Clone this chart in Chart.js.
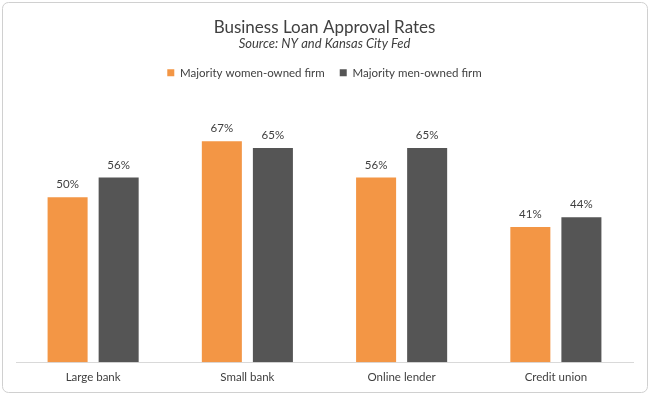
<!DOCTYPE html>
<html>
<head>
<meta charset="utf-8">
<script src="https://cdn.jsdelivr.net/npm/chart.js@4.4.1/dist/chart.umd.min.js"></script>
<style>
  html, body { margin: 0; padding: 0; background: #fff; }
  #wrap { width: 650px; height: 396px; position: relative; }
</style>
</head>
<body>
<div id="wrap"><canvas id="grafico" width="650" height="396"></canvas></div>
<script>
const categorias = ["Large bank", "Small bank", "Online lender", "Credit union"];
const mulheres = [50, 67, 56, 41];
const homens = [56, 65, 65, 44];

const fonte = "Lato, 'Open Sans', sans-serif";
const corTexto = "#404040";

// moldura arredondada em volta do grafico
const moldura = {
  id: "moldura",
  beforeDraw(chart) {
    const ctx = chart.ctx;
    ctx.save();
    ctx.fillStyle = "#fff";
    ctx.fillRect(0, 0, chart.width, chart.height);
    ctx.strokeStyle = "#d0d0d0";
    ctx.lineWidth = 1;
    ctx.beginPath();
    ctx.roundRect(2.5, 2.5, 645, 390, 6);
    ctx.stroke();
    ctx.restore();
  },
};

// rotulos de valor em cima das barras
const rotulos = {
  id: "rotulos",
  afterDatasetsDraw(chart) {
    const ctx = chart.ctx;
    ctx.save();
    ctx.font = "11.5px " + fonte;
    ctx.fillStyle = corTexto;
    ctx.textAlign = "center";
    ctx.textBaseline = "bottom";
    chart.data.datasets.forEach((dataset, i) => {
      chart.getDatasetMeta(i).data.forEach((barra, j) => {
        ctx.fillText(dataset.data[j] + "%", barra.x, barra.y - 7);
      });
    });
    ctx.restore();
  },
};

const grafico = document.getElementById("grafico");
new Chart(grafico, {
  type: "bar",
  data: {
    labels: categorias,
    datasets: [
      {
        label: "Majority women-owned firm",
        data: mulheres,
        backgroundColor: "#F39645",
        categoryPercentage: 0.662,
        barPercentage: 0.784,
      },
      {
        label: "Majority men-owned firm",
        data: homens,
        backgroundColor: "#555555",
        categoryPercentage: 0.662,
        barPercentage: 0.784,
      },
    ],
  },
  options: {
    responsive: false,
    animation: false,
    layout: { padding: { left: 16, right: 17, top: 6, bottom: 4 } },
    plugins: {
      title: {
        display: true,
        text: "Business Loan Approval Rates",
        color: corTexto,
        font: { family: fonte, size: 17, weight: "normal", lineHeight: 0.85 },
        padding: { top: 14, bottom: 0 },
      },
      subtitle: {
        display: true,
        text: "Source: NY and Kansas City Fed",
        color: corTexto,
        font: { family: fonte, size: 13, style: "italic" },
        padding: { top: 2, bottom: 0 },
      },
      legend: {
        labels: {
          boxWidth: 7,
          boxHeight: 7,
          color: corTexto,
          font: { family: fonte, size: 11.5 },
          padding: 15,
        },
      },
      tooltip: { enabled: false },
    },
    scales: {
      x: {
        grid: { display: false, drawTicks: false },
        border: { color: "#d9d9d9" },
        ticks: { color: corTexto, font: { family: fonte, size: 11.5 }, padding: 8 },
      },
      y: {
        display: false,
        min: 0,
        max: 83,
      },
    },
  },
  plugins: [moldura, rotulos],
});
</script>
</body>
</html>
